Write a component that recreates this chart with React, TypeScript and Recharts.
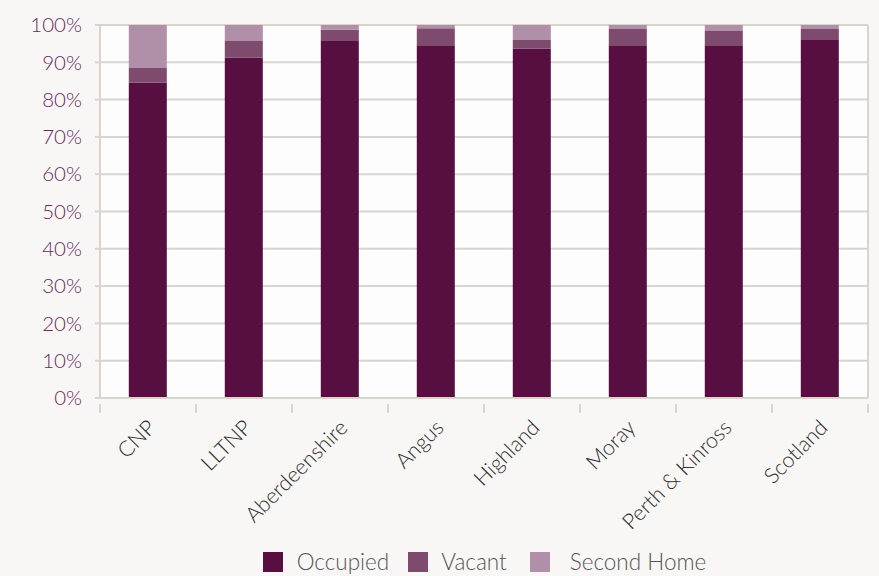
import React from 'react';
import { BarChart, Bar, XAxis, YAxis, CartesianGrid, Legend } from 'recharts';

const areas = ['CNP', 'LLTNP', 'Aberdeenshire', 'Angus', 'Highland', 'Moray', 'Perth & Kinross', 'Scotland'];
const occupied = [84.5, 91.2, 95.7, 94.6, 93.7, 94.6, 94.6, 96.2];
const vacant = [4.0, 4.5, 3.0, 4.5, 2.3, 4.3, 3.8, 2.7];
const secondHome = [11.5, 4.3, 1.3, 0.9, 4.0, 1.1, 1.6, 1.1];
const yTicks = [0, 10, 20, 30, 40, 50, 60, 70, 80, 90, 100];

const data = areas.map((name, i) => ({
    name,
    occupied: occupied[i],
    vacant: vacant[i],
    secondHome: secondHome[i],
}));

const gridColor = '#d9d4ce';
const font = 'Lato, "Open Sans", sans-serif';
const colors = { occupied: '#570f42', vacant: '#7e4a6e', secondHome: '#b08fa8' };

const legendItems = [
    { label: 'Occupied', color: colors.occupied, gap: 14, after: 19 },
    { label: 'Vacant', color: colors.vacant, gap: 13, after: 23 },
    { label: 'Second Home', color: colors.secondHome, gap: 20, after: 0 },
];

// x labels rotated, plus tick marks on the category boundaries
const AreaTick = (props: any) => {
    const { x, y, payload, index } = props;
    const half = payload && payload.offset ? payload.offset : 48;
    const isLast = index === areas.length - 1;
    return (
        <g>
            <line x1={x - half} y1={y - 2} x2={x - half} y2={y + 7} stroke={gridColor} strokeWidth={2} />
            {isLast && <line x1={x + half} y1={y - 2} x2={x + half} y2={y + 7} stroke={gridColor} strokeWidth={2} />}
            <text
                x={x + 9}
                y={y + 23}
                transform={`rotate(-45, ${x + 9}, ${y + 23})`}
                textAnchor="end"
                fill="#2e2e2e"
                fontSize={21.5}
                fontFamily={font}
                fontWeight={300}
            >
                {payload.value}
            </text>
        </g>
    );
};

const LegendBox = () => (
    <div style={{ display: 'flex', justifyContent: 'center', alignItems: 'center', height: 36, paddingTop: 8, paddingLeft: 90, boxSizing: 'border-box', fontFamily: font, fontWeight: 300, fontSize: 22.5, color: '#555', lineHeight: '24px' }}>
        {legendItems.map((item) => (
            <div key={item.label} style={{ display: 'flex', alignItems: 'center', marginRight: item.after }}>
                <span style={{ width: 20, height: 20, background: item.color, display: 'inline-block', marginRight: item.gap }} />
                <span>{item.label}</span>
            </div>
        ))}
    </div>
);

export default function App() {
    return (
        <div style={{ position: 'absolute', top: 0, left: 0, width: 879, height: 576, background: '#f8f7f5' }}>
            <BarChart width={879} height={576} data={data} barCategoryGap="30%" margin={{ top: 25, right: 0, left: 0, bottom: 0 }}>
                <CartesianGrid vertical={false} stroke={gridColor} strokeWidth={2} fill="#fdfdfd" />
                <XAxis
                    dataKey="name"
                    interval={0}
                    height={142}
                    axisLine={{ stroke: gridColor, strokeWidth: 2 }}
                    tickLine={false}
                    tick={<AreaTick />}
                />
                <YAxis
                    domain={[0, 100]}
                    ticks={yTicks}
                    width={100}
                    interval={0}
                    tickFormatter={(v) => `${v}%`}
                    axisLine={{ stroke: gridColor, strokeWidth: 2 }}
                    tickLine={{ stroke: gridColor, strokeWidth: 2 }}
                    tickSize={5}
                    tickMargin={13}
                    tick={{ fill: '#6a2a5b', fontSize: 20.5, fontFamily: font, fontWeight: 300 }}
                />
                <YAxis
                    yAxisId="right"
                    orientation="right"
                    width={11}
                    tick={false}
                    tickLine={false}
                    axisLine={{ stroke: gridColor, strokeWidth: 2 }}
                />
                <Legend verticalAlign="bottom" content={<LegendBox />} />
                <Bar dataKey="occupied" name="Occupied" stackId="a" fill={colors.occupied} isAnimationActive={false} />
                <Bar dataKey="vacant" name="Vacant" stackId="a" fill={colors.vacant} isAnimationActive={false} />
                <Bar dataKey="secondHome" name="Second Home" stackId="a" fill={colors.secondHome} isAnimationActive={false} />
            </BarChart>
        </div>
    );
}
